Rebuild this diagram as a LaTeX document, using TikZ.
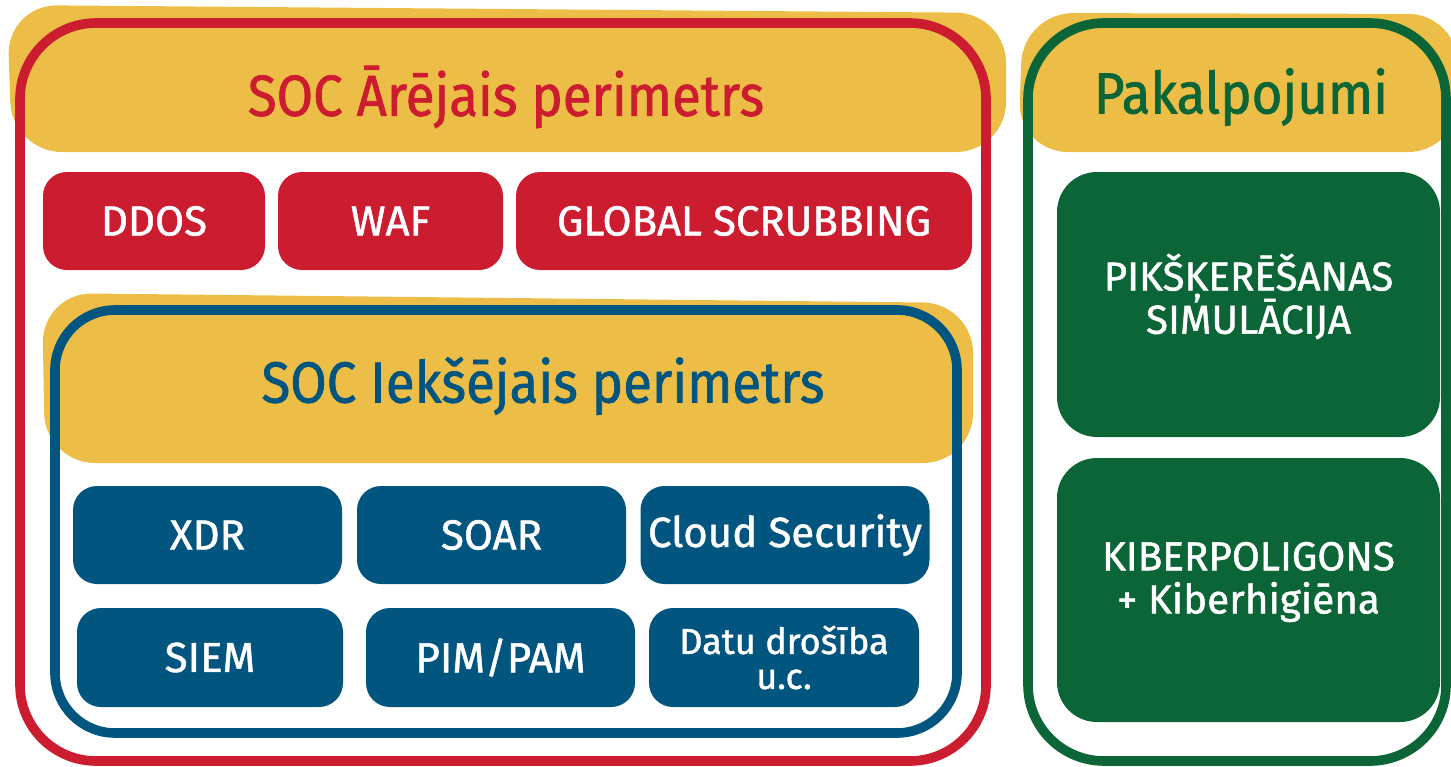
\documentclass[tikz,border=0pt]{standalone}
\usepackage{fontspec}
\setmainfont{Fira Sans}
\newfontfamily\lab[FakeBold=1.2]{Fira Sans}
\newfontfamily\ttl[FakeBold=1.2,FakeStretch=0.91]{Fira Sans}
\newcommand\tightls{\lineskiplimit-100pt\relax}
\definecolor{cred}{HTML}{CC1C30}
\definecolor{cyel}{HTML}{ECBE48}
\definecolor{cblue}{HTML}{02557F}
\definecolor{cgreen}{HTML}{0C6536}
\tikzset{
  banner/.style={fill=cyel, rounded corners=25pt},
  frame/.style={line width=4.8pt, rounded corners=#1},
  tile/.style={fill=#1, rounded corners=12pt, text=white, inner sep=0pt,
    font=\lab\fontsize{21}{24}\selectfont, align=center},
  gtile/.style={fill=cgreen, rounded corners=20pt, inner sep=0pt,
    minimum width=191.5pt, minimum height=132.5pt},
  gtext/.style={text=white, inner sep=0pt, align=center,
    font={\lab\fontsize{20.2}{21.6}\selectfont\tightls}},
  title/.style={inner sep=0pt, font=\ttl\fontsize{29}{32}\selectfont}
}
\begin{document}
\begin{tikzpicture}[x=0.5pt,y=-0.5pt]
\useasboundingbox (0,0) rectangle (1451,766);
% yellow banners
\fill[banner] (7,5) -- (1006,13) -- (1006,152) -- (12,152) -- cycle;
\fill[banner] (1023,13) -- (1458,14) -- (1458,152) -- (1018,152) -- cycle;
\fill[banner] (42,293) -- (973,303) -- (973,463) -- (45,463) -- cycle;
% frames
\draw[frame=38pt, cred] (20,23) rectangle (986,761);
\draw[frame=30pt, cblue] (55,310) rectangle (957,733);
\draw[frame=38pt, cgreen] (1028,23) rectangle (1446,761);
% titles
\node[title, text=cred] (t1) at (506,97) {SOC Ārējais perimetrs};
\node[title, text=cgreen] (t2) at (1241,97) {Pakalpojumi};
\node[title, text=cblue] (t3) at (543,386) {SOC Iekšējais perimetrs};
% red tiles
\node[tile=cred, minimum width=111pt, minimum height=49pt] (ddos) at (154,221) {DDOS};
\node[tile=cred, minimum width=112.5pt, minimum height=49pt] (waf) at (390.5,221) {WAF};
\node[tile=cred, minimum width=228pt, minimum height=49pt] (gs) at (744,221) {GLOBAL SCRUBBING};
% blue tiles
\node[tile=cblue, minimum width=134.5pt, minimum height=49pt] (xdr) at (207.5,535) {XDR};
\node[tile=cblue, minimum width=134.5pt, minimum height=49pt] (soar) at (491.5,535) {SOAR};
\node[tile=cblue, minimum width=144.5pt, minimum height=49pt] (cloud) at (785,535) {Cloud Security};
\node[tile=cblue, minimum width=133pt, minimum height=49.5pt] (siem) at (210,657.5) {SIEM};
\node[tile=cblue, minimum width=134.5pt, minimum height=49.5pt] (pim) at (500.5,657.5) {PIM/PAM};
\node[tile=cblue, minimum width=135pt, minimum height=49.5pt, font={\lab\fontsize{18}{17.5}\selectfont\tightls}] (datu) at (784,657.5) {Datu drošība\\u.c.};
% green tiles
\node[gtile] (pik) at (1248.5,304.5) {};
\node[gtext, yshift=4pt] (pikt) at (pik.center) {PIKŠĶERĒŠANAS\\SIMULĀCIJA};
\node[gtile, minimum height=132pt] (kib) at (1248.5,590) {};
\node[gtext, yshift=4pt] (kibt) at (kib.center) {KIBERPOLIGONS\\+ Kiberhigiēna};
\end{tikzpicture}
\end{document}
